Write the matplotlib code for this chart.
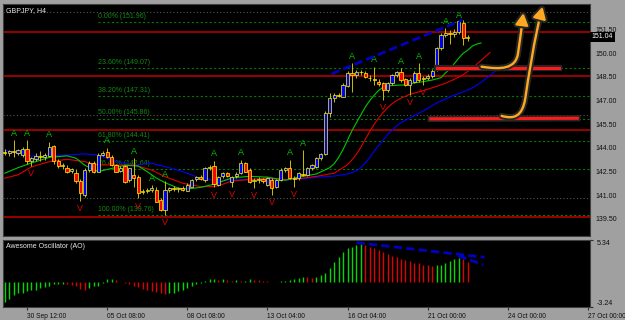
import numpy as np
import matplotlib.pyplot as plt
import matplotlib.patheffects as pe
from matplotlib.patches import Rectangle, FancyArrowPatch
from matplotlib.path import Path
from matplotlib.transforms import blended_transform_factory

plt.rcParams['font.family'] = ['Liberation Sans', 'DejaVu Sans']

# GBPJPY H4 candles, bar 0 = 30 Sep 12:00, first bar shown is -5
first_bar = -5
opens = [143.75, 143.70, 143.80, 143.65, 143.55, 143.95, 143.15, 143.30, 143.50, 143.40,
         143.50, 144.10, 143.15, 142.85, 142.75, 142.55, 142.40, 141.90, 141.00, 142.60,
         143.05, 142.50, 143.55, 143.75, 143.45, 142.90, 142.55, 142.85, 141.95, 142.30,
         142.18, 141.20, 141.30, 141.35, 141.35, 140.70, 140.07, 141.35, 141.45, 141.40,
         141.45, 141.30, 141.55, 142.00, 142.15, 141.97, 142.70, 142.85, 141.66, 142.20,
         142.40, 141.85, 142.20, 142.40, 143.03, 142.60, 141.90, 141.95, 142.00, 141.66,
         141.97, 141.55, 141.97, 142.60, 142.70, 142.08, 142.08, 142.35, 142.30, 142.70,
         142.82, 143.34, 143.62, 146.20, 147.15, 147.36, 147.25, 147.93, 148.73, 148.62,
         148.83, 148.73, 148.45, 148.35, 148.20, 148.10, 147.67, 148.10, 148.63, 148.83,
         148.35, 147.99, 148.20, 148.77, 148.35, 148.45, 148.56, 148.94, 150.31, 151.16,
         151.30, 151.20, 151.37, 151.90, 150.95]
highs = [143.95, 143.90, 144.50, 143.95, 144.05, 144.50, 143.40, 143.65, 143.80, 143.70,
         144.40, 144.20, 143.30, 143.05, 142.95, 142.75, 142.65, 142.00, 142.70, 143.20,
         143.20, 143.65, 143.80, 144.00, 143.55, 143.00, 142.85, 142.95, 142.75, 143.34,
         142.30, 141.40, 141.45, 141.65, 141.50, 140.80, 141.90, 141.55, 141.60, 141.55,
         141.60, 141.75, 142.05, 142.25, 142.30, 142.80, 142.95, 143.20, 142.25, 142.50,
         142.50, 142.25, 142.45, 143.24, 143.10, 142.70, 142.10, 142.15, 142.10, 142.15,
         142.10, 142.05, 142.70, 142.80, 143.24, 142.25, 142.50, 143.87, 142.80, 143.00,
         143.40, 143.70, 146.35, 147.46, 147.50, 147.50, 148.10, 148.85, 149.36, 148.95,
         148.95, 148.85, 148.60, 149.15, 148.35, 148.20, 148.20, 148.70, 148.90, 149.06,
         148.45, 148.40, 148.85, 149.36, 148.55, 148.70, 149.00, 150.40, 151.30, 151.58,
         151.50, 151.55, 151.96, 152.10, 151.15]
lows = [143.55, 143.50, 143.45, 143.55, 143.45, 143.00, 142.85, 143.20, 143.15, 143.25,
        143.40, 143.00, 142.75, 142.65, 142.40, 142.40, 141.80, 140.65, 140.90, 142.50,
        142.40, 142.45, 143.50, 143.35, 142.85, 142.45, 142.45, 141.80, 141.85, 141.55,
        140.80, 141.10, 141.15, 141.20, 140.55, 140.00, 139.76, 141.20, 141.25, 141.20,
        141.30, 141.25, 141.50, 141.90, 141.95, 141.85, 142.60, 141.50, 141.60, 142.10,
        142.15, 141.55, 142.10, 142.35, 142.45, 141.80, 141.45, 141.80, 141.75, 141.60,
        141.00, 141.45, 141.90, 142.50, 142.00, 141.55, 141.95, 142.20, 142.20, 142.60,
        142.75, 143.25, 143.55, 145.95, 146.90, 147.20, 147.20, 147.85, 147.57, 148.40,
        148.60, 148.40, 148.25, 148.00, 147.95, 147.04, 147.55, 148.00, 148.50, 148.20,
        147.90, 147.36, 148.10, 148.20, 147.99, 148.30, 148.45, 148.85, 150.20, 151.00,
        150.60, 151.05, 151.20, 150.52, 150.75]
closes = [143.70, 143.80, 143.72, 143.85, 143.95, 143.15, 143.35, 143.50, 143.40, 143.55,
          144.05, 143.15, 142.85, 142.90, 142.50, 142.65, 141.90, 141.15, 142.60, 143.05,
          142.50, 143.55, 143.70, 143.45, 142.90, 142.50, 142.75, 141.87, 142.70, 142.10,
          141.13, 141.30, 141.35, 141.45, 140.60, 140.07, 141.34, 141.45, 141.40, 141.45,
          141.35, 141.66, 141.97, 142.15, 142.05, 142.70, 142.80, 141.70, 142.18, 142.40,
          142.25, 142.18, 142.35, 143.03, 142.50, 141.87, 141.97, 142.00, 141.90, 142.08,
          141.45, 141.97, 142.60, 142.70, 142.08, 142.00, 142.40, 142.30, 142.70, 142.90,
          143.34, 143.62, 146.24, 147.15, 147.36, 147.30, 147.99, 148.73, 148.65, 148.83,
          148.78, 148.52, 148.40, 148.28, 148.05, 147.67, 148.10, 148.63, 148.83, 148.30,
          147.99, 148.30, 148.77, 148.30, 148.45, 148.55, 148.90, 150.31, 151.16, 151.30,
          151.20, 151.35, 152.07, 150.95, 151.04]

# fractal arrows (bar numbers)
up_fractals = [-3, 0, 5, 18, 24, 28, 31, 42, 48, 59, 62, 73, 78, 84, 88, 94, 97]
down_fractals = [1, 12, 25, 31, 42, 46, 51, 55, 60, 80, 86, 89]

# alligator lines (bar, price)
jaw_x = [-5, -2, 1, 5, 9, 13, 16, 20, 24, 28, 31, 35, 39, 42, 46, 50, 54, 58, 61, 65, 69, 72,
         74, 75, 76, 77, 78, 79, 80, 81, 82, 83, 84, 86, 88, 90, 92, 94, 96, 98, 100, 102, 104, 106]
jaw_y = [143.87, 143.66, 143.49, 143.49, 143.55, 143.62, 143.55, 143.13, 142.92, 143.03, 142.82,
         142.50, 142.08, 141.95, 141.97, 142.01, 141.97, 141.97, 142.01, 142.14, 142.22, 142.35,
         142.55, 142.75, 143.05, 143.40, 143.80, 144.15, 144.50, 144.85, 145.10, 145.40, 145.60,
         145.90, 146.20, 146.50, 146.85, 147.10, 147.35, 147.55, 147.80, 148.15, 148.60, 149.05]
teeth_x = [-5, -2, 1, 5, 9, 13, 16, 20, 24, 28, 31, 35, 39, 42, 44, 46, 50, 54, 58, 61, 65, 69,
           71, 72, 73, 74, 75, 76, 77, 78, 79, 80, 81, 82, 83, 84, 86, 88, 90, 92, 94, 96, 98,
           99, 100, 101, 102, 103, 104]
teeth_y = [142.08, 142.30, 142.80, 143.13, 143.28, 143.13, 142.92, 142.92, 142.92, 142.60, 142.18,
           141.76, 141.55, 141.55, 141.70, 141.90, 142.00, 142.08, 142.00, 142.05, 142.20, 142.40,
           142.75, 142.95, 143.25, 143.60, 144.05, 144.55, 145.05, 145.50, 145.90, 146.25, 146.55,
           146.80, 147.00, 147.15, 147.40, 147.55, 147.72, 147.90, 148.10, 148.35, 148.65, 148.85,
           149.05, 149.30, 149.55, 149.80, 150.05]
lips_x = [-5, -2, 1, 5, 9, 11, 13, 16, 19, 22, 25, 27, 29, 31, 34, 36, 39, 42, 46, 50, 54, 58,
          61, 65, 68, 69, 70, 71, 72, 73, 74, 75, 76, 77, 78, 79, 80, 81, 83, 85, 87, 89, 91, 93,
          94, 95, 96, 97, 98, 99, 100, 101, 102]
lips_y = [142.40, 142.75, 143.05, 143.40, 143.50, 143.35, 142.90, 142.50, 142.70, 142.90, 142.85,
          142.50, 142.10, 141.80, 141.45, 141.40, 141.50, 141.70, 142.10, 142.20, 142.15, 141.95,
          142.15, 142.35, 142.75, 143.00, 143.40, 143.90, 144.50, 145.10, 145.60, 146.10, 146.60,
          147.00, 147.35, 147.65, 147.85, 147.93, 147.97, 148.00, 148.12, 148.20, 148.30, 148.45,
          148.75, 149.00, 149.35, 149.70, 150.00, 150.20, 150.45, 150.58, 150.65]

# fibonacci retracement
fib_pcts = ['0.00%', '23.60%', '38.20%', '50.00%', '61.80%', '76.40%', '100.00%']
fib_prices = [151.96, 149.07, 147.31, 145.86, 144.41, 142.64, 139.76]
fib_start = 16

red_levels = [151.33, 148.56, 145.14, 139.60]
grey_levels = [152.60, 146.08, 140.82]
last_price = 151.04

# awesome oscillator, one value per bar
ao_values = [-2.6, -2.2, -1.7, -1.5, -1.4, -1.2, -1.1, -1.0, -0.8, -0.7, -0.5, -0.35, -0.3, -0.28,
             -0.3, -0.45, -0.6, -0.9, -1.0, -0.85, -0.6, -0.5, -0.15, 0.3, 0.35,
             0.2, -0.05, -0.2, -0.3, -0.5, -0.7, -0.9, -1.1, -1.2, -1.35, -1.5, -1.6,
             -1.5, -1.4, -1.2, -1.0, -0.8, -0.55, -0.3, -0.2, 0.1, 0.3, 0.32,
             0.25, 0.3, 0.2, 0.15, 0.17, 0.1, 0.15, 0.3, 0.25, 0.2, 0.1, 0.05, 0.0, -0.05, 0.05, 0.1, 0.2,
             0.35, 0.5, 0.65, 0.55, 0.5, 0.65, 0.85,
             1.15, 1.8, 2.5, 3.1, 3.8, 4.35, 4.5, 4.7, 4.85,
             4.7, 4.5, 4.3, 4.05, 3.75, 3.5, 3.3, 3.1, 2.85, 2.8, 2.65, 2.45, 2.35, 2.2, 2.1, 2.05,
             2.1, 2.2, 2.45, 2.65, 2.85, 3.0, 2.85, 2.55]

tick_bars = [0, 18, 36, 54, 72, 90, 108, 126]
tick_labels = ['30 Sep 12:00', '05 Oct 08:00', '08 Oct 08:00', '13 Oct 04:00',
               '16 Oct 04:00', '21 Oct 00:00', '24 Oct 00:00', '27 Oct 00:00']

# hand drawn marks (bar, price)
trend_x = [68.4, 97.8]
trend_y = [148.69, 152.11]
ao_trend1_x = [74.0, 102.8]
ao_trend1_y = [5.0, 3.13]
ao_trend2_x = [96.9, 102.5]
ao_trend2_y = [3.3, 2.18]
zone_lines = [([92.0, 119.6], [149.05, 149.05]), ([90.7, 123.6], [145.84, 145.88])]
arrow1 = [(102.1, 149.15), (106.5, 148.95), (109.8, 149.0), (110.3, 150.0),
          (110.8, 150.9), (111.1, 151.7), (111.5, 152.55)]
arrow2 = [(106.6, 146.03), (109.5, 145.8), (111.2, 146.0), (111.9, 147.1),
          (112.7, 148.6), (114.0, 151.0), (115.8, 152.95)]

bg = '#a0a0a0'
fig = plt.figure(figsize=(6.25, 3.2), dpi=100, facecolor=bg)
ax = fig.add_axes([3 / 625, 1 - 236 / 320, 587 / 625, 232 / 320])
osc = fig.add_axes([3 / 625, 1 - 307 / 320, 587 / 625, 67 / 320], sharex=ax)

for a in (ax, osc):
    a.set_facecolor('black')
    for s in a.spines.values():
        s.set_color('#404040')
        s.set_linewidth(0.8)

ax.set_xlim(-5.39, 126.46)
ax.set_ylim(138.42, 153.12)

# horizontal levels
for lvl in grey_levels:
    ax.axhline(lvl, color='#555555', lw=0.8, ls=(0, (1, 2)), zorder=1)
ax.hlines(fib_prices, fib_start, 130, colors='#007a00', lw=0.8, linestyles=(0, (2, 2)), zorder=1)
for pct, price in zip(fib_pcts, fib_prices):
    ax.annotate(f'{pct} ({price:.2f})', (fib_start, price), xytext=(0, 1.5),
                textcoords='offset points', color='#108a10', fontsize=5, va='bottom', zorder=1)
for lvl in red_levels:
    ax.axhline(lvl, color='#c00000', lw=1.1, zorder=1)

# alligator
ax.plot(jaw_x, jaw_y, color='#0000ff', lw=0.8, zorder=2)
ax.plot(teeth_x, teeth_y, color='#e00000', lw=0.8, zorder=2)
ax.plot(lips_x, lips_y, color='#00c800', lw=0.8, zorder=2)

# candles
bars = np.arange(len(opens)) + first_bar
ax.vlines(bars, lows, highs, color='#c8c000', lw=0.7, zorder=3)
for b, o, c in zip(bars, opens, closes):
    body = max(abs(c - o), 0.04)
    ax.add_patch(Rectangle((b - 0.36, min(o, c)), 0.72, body,
                           facecolor='#0000ff' if c >= o else '#ff0000',
                           edgecolor='#ffff00', lw=0.5, zorder=4))

# fractals
for b in up_fractals:
    k = b - first_bar
    ax.annotate('A', (b, highs[k]), xytext=(0, 5), textcoords='offset points',
                ha='center', va='center', color='#00c000', fontsize=6.5, zorder=5)
for b in down_fractals:
    k = b - first_bar
    ax.annotate('V', (b, lows[k]), xytext=(0, -5.5), textcoords='offset points',
                ha='center', va='center', color='#e00000', fontsize=6.5, zorder=5)

# hand drawn trend line, zones and arrows
glow = [pe.withStroke(linewidth=4.5, foreground='#262626')]
ax.plot(trend_x, trend_y, color='#0000c0', lw=2, ls=(0, (3, 1.5)), zorder=6)
for zx, zy in zone_lines:
    ax.plot(zx, zy, color='#ff1a1a', lw=2.2, zorder=6, path_effects=glow)
for pts in (arrow1, arrow2):
    codes = [Path.MOVETO] + [Path.CURVE4] * 6
    arr = FancyArrowPatch(path=Path(pts, codes), arrowstyle='-|>,head_length=0.7,head_width=0.38',
                          mutation_scale=10, color='#ffa820', lw=1.7, zorder=7, path_effects=glow)
    ax.add_patch(arr)

# right price scale
ax.yaxis.tick_right()
ax.set_yticks(np.arange(139.5, 151.6, 1.5))
ax.set_yticklabels([f'{v:.2f}' for v in np.arange(139.5, 151.6, 1.5)])
ax.tick_params(axis='y', length=0, pad=4, labelsize=5, labelcolor='#101010')
ax.tick_params(axis='x', bottom=False, labelbottom=False)
tr = blended_transform_factory(ax.transAxes, ax.transData)
ax.text(1.003, last_price, f'{last_price:.2f}', transform=tr, color='white', fontsize=5,
        va='center', ha='left', bbox=dict(facecolor='black', edgecolor='none', pad=1.2))

fig.text(6 / 625, 1 - 7 / 320, 'GBPJPY, H4', color='#e8e8e8', fontsize=5, va='top')

# awesome oscillator
ao_colors = ['#00d800'] + ['#00d800' if v > p else '#e00000'
                           for p, v in zip(ao_values[:-1], ao_values[1:])]
osc.vlines(bars, 0, ao_values, colors=ao_colors, lw=1.0)
osc.plot(ao_trend1_x, ao_trend1_y, color='#0000c0', lw=2, ls=(0, (3, 1.5)))
osc.plot(ao_trend2_x, ao_trend2_y, color='#0000c0', lw=2, ls=(0, (3, 1.5)))
osc.set_ylim(-3.24, 5.34)
osc.yaxis.tick_right()
osc.set_yticks([5.34, -3.24])
osc.set_yticklabels(['5.34', '-3.24'])
osc.tick_params(axis='y', length=2, pad=3, labelsize=5, labelcolor='#101010', color='#303030')
yl = osc.get_yticklabels()
yl[0].set_va('top')
yl[1].set_va('bottom')
osc.set_xticks(tick_bars)
osc.set_xticklabels(tick_labels)
osc.tick_params(axis='x', length=2.5, pad=1.5, labelsize=4.8, labelcolor='#101010', color='#303030')
for t in osc.get_xticklabels():
    t.set_ha('left')
fig.text(6 / 625, 1 - 243 / 320, 'Awesome Oscillator (AO)', color='#e8e8e8', fontsize=5, va='top')

fig.savefig('out.png', dpi=100, facecolor=bg)
